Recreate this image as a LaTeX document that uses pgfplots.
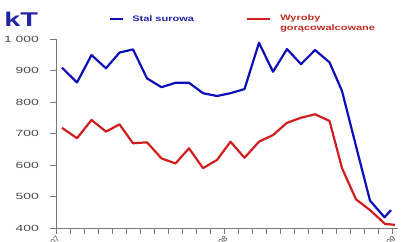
\documentclass[border=0pt]{standalone}
\usepackage{pgfplots}
\pgfplotsset{compat=1.18}
\usepackage{fontspec}
\setmainfont{Liberation Sans}
\definecolor{cblue}{RGB}{15,15,185}
\definecolor{cred}{RGB}{210,30,30}
\definecolor{tblue}{RGB}{35,35,165}
\definecolor{tred}{RGB}{190,45,30}
\definecolor{axgray}{RGB}{120,120,120}
\definecolor{lblgray}{RGB}{75,75,75}
\begin{document}
\begin{tikzpicture}[x=1bp,y=1bp]
\begin{axis}[
  at={(56bp,14bp)}, anchor=south west,
  scale only axis, width=342bp, height=189bp,
  xmin=56, xmax=398, ymin=400, ymax=1000,
  axis lines=left,
  axis line style={axgray, line width=0.9bp, -},
  tick style={axgray, line width=0.7bp},
  tick align=outside,
  major tick length=6bp,
  xtick={56,70,...,392},
  xticklabels={sty 07,,,,,,,,,,,,sty 08,,,,,,,,,,,,sty 09},
  xticklabel style={rotate=45, anchor=north east, font=\fontsize{8}{8}\selectfont, text=lblgray, inner sep=1bp},
  ytick={400,500,600,700,800,900,1000},
  yticklabels={400,500,600,700,800,900,1 000},
  yticklabel style={font=\fontsize{9}{9}\selectfont, text=lblgray, xscale=1.55, anchor=east, inner sep=0pt, xshift=-7bp},
  clip=false,
]
\addplot[cblue, line width=2.2bp, line join=round] coordinates {
(62,909)(77,862)(91.5,949)(106,907)(119.5,957)(133,967)(147,875)(161.5,847)(175.5,861)(189,861)
(203,828)(217,819)(230.5,828)(244.5,841)(259,988)(273,896)(287,968)(301,920)(315,965)(329.5,926)
(342,835)(356,660)(370,487)(384.5,434)(391,457)};
\addplot[cred, line width=2.2bp, line join=round] coordinates {
(62,718)(77,685)(91.5,743)(106,706)(119.5,729)(133,669)(147,672)(161.5,621)(175.5,605)(189,653)
(203,590)(217,616)(230.5,674)(244.5,623)(259,674)(273,695)(287,734)(301,750)(315,761)(329.5,740)
(342,590)(356,491)(370,457)(385,413)(395,410)};
\end{axis}
% legend
\node[anchor=west, inner sep=0pt, text=tblue, font=\fontsize{20}{20}\selectfont\bfseries, xscale=1.45] at (4,223) {kT};
\draw[cblue, line width=2.2bp] (110,223) -- (123,223);
\node[anchor=west, inner sep=0pt, text=tblue, font=\fontsize{8}{8}\selectfont\bfseries, xscale=1.38] at (132,223) {Stal surowa};
\draw[cred, line width=2.2bp] (247,223) -- (270,223);
\node[anchor=west, inner sep=0pt, text=tred, font=\fontsize{8}{8}\selectfont\bfseries, xscale=1.38] at (280,224) {Wyroby};
\node[anchor=west, inner sep=0pt, text=tred, font=\fontsize{8}{8}\selectfont\bfseries, xscale=1.38] at (280,214) {gorącowalcowane};
\pgfresetboundingbox
\path[use as bounding box] (0,0) rectangle (406,242);
\end{tikzpicture}
\end{document}
